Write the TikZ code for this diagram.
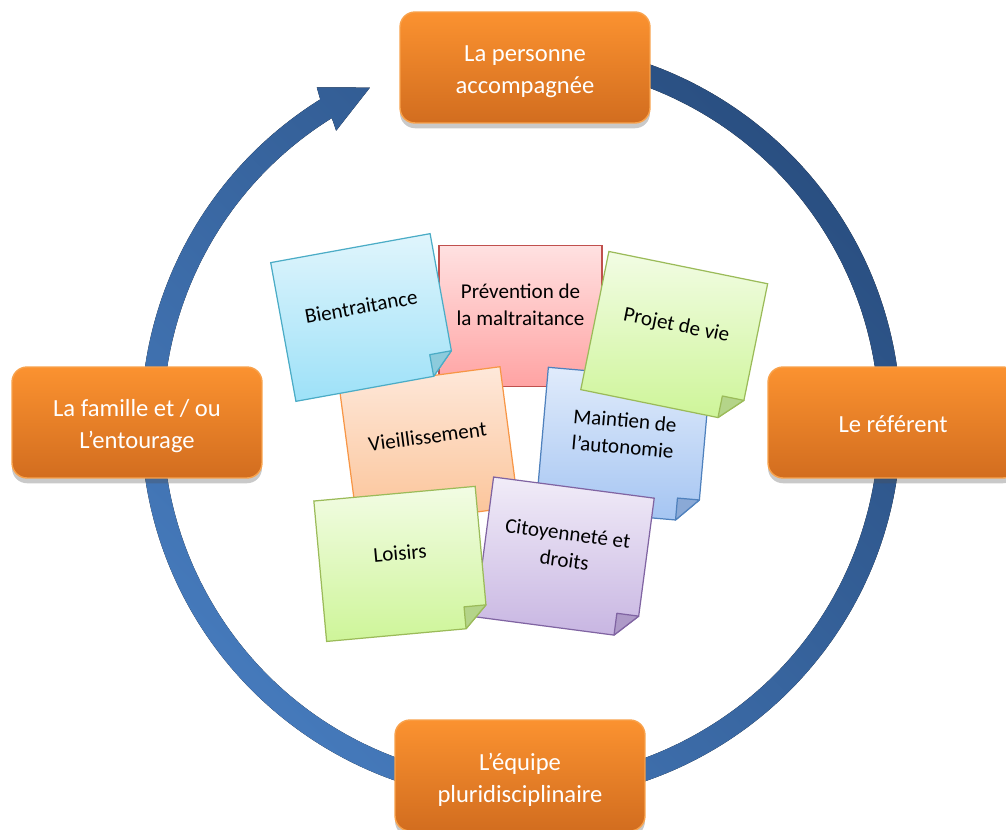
\documentclass[tikz,border=0pt]{standalone}
\usepackage{fontspec}
\setmainfont{Carlito}
\usetikzlibrary{shadows}

% hub boxes
\definecolor{hubtop}{HTML}{FB9230}
\definecolor{hubbot}{HTML}{D26D1F}
\definecolor{hubline}{HTML}{F8A24C}
% ring
\definecolor{ringdark}{HTML}{294E80}
\definecolor{ringlight}{HTML}{467BBD}
% sticky notes
\definecolor{cyanT}{HTML}{E0F5FC}\definecolor{cyanB}{HTML}{9DE1F8}\definecolor{cyanL}{HTML}{4BACC6}\definecolor{cyanF}{HTML}{8CCBDC}
\definecolor{redT}{HTML}{FFE1E1}\definecolor{redB}{HTML}{FFA3A3}\definecolor{redL}{HTML}{C0504D}
\definecolor{grnT}{HTML}{F2FCE4}\definecolor{grnB}{HTML}{CEF599}\definecolor{grnL}{HTML}{9BBB59}\definecolor{grnF}{HTML}{B4D489}
\definecolor{orgT}{HTML}{FEE8DA}\definecolor{orgB}{HTML}{FBC295}\definecolor{orgL}{HTML}{F79646}\definecolor{orgF}{HTML}{E8A878}
\definecolor{bluT}{HTML}{E0EBFB}\definecolor{bluB}{HTML}{A5C5F2}\definecolor{bluL}{HTML}{4F81BD}\definecolor{bluF}{HTML}{8AA9D6}
\definecolor{purT}{HTML}{F1ECF8}\definecolor{purB}{HTML}{C8B6E2}\definecolor{purL}{HTML}{8064A2}\definecolor{purF}{HTML}{AE9AC8}

% sticky note with a folded lower right corner
% #1,#2 centre, #3 tilt, #4 colour prefix, #5 node name, #6 text
\newcommand\stickynote[6]{%
  \begin{scope}[shift={(#1,#2)}, rotate=#3]
    \path[draw=#4L, line width=0.7pt, top color=#4T, bottom color=#4B]
      (-81,-70.5) -- (81,-70.5) -- (81,48.5) -- (59,70.5) -- (-81,70.5) -- cycle;
    \path[draw=#4L, line width=0.7pt, fill=#4F, line join=round]
      (81,48.5) -- (59,70.5) -- (59,48.5) -- cycle;
    \node[notetext, rotate=#3] (#5) at (0,-11) {#6};
  \end{scope}}

\begin{document}
\begin{tikzpicture}[x=0.02cm, y=-0.02cm,
  hub/.style={draw=hubline, line width=0.8pt, rounded corners=0.3cm,
    top color=hubtop, bottom color=hubbot,
    minimum width=5cm, minimum height=2.22cm, inner sep=0pt,
    drop shadow={shadow xshift=0pt, shadow yshift=-3pt, opacity=0.3, fill=black!70}},
  hubtext/.style={align=center, text=white, inner sep=0pt,
    font=\fontsize{14}{18.2}\selectfont},
  notetext/.style={align=center, text=black, inner sep=0pt,
    font=\fontsize{12}{15.2}\selectfont}]

\useasboundingbox (0,0) rectangle (1006,830);
\clip (0,0) rectangle (1006,830);

% circular arrow, running clockwise from the top box round to its head
\begin{scope}[shift={(521,422)}]
  \fill[top color=ringdark, bottom color=ringlight, shading angle=-45]
    (-95:380) arc[start angle=-95, end angle=238.1, radius=380]
    -- (238.6:392) -- (245.7:367) -- (237.6:345)
    -- (238.1:358) arc[start angle=238.1, end angle=-95, radius=358] -- cycle;
\end{scope}

% the four partners
\node[hub] (person) at (525,67.5) {};
\node[hubtext] (personlabel) at ([yshift=-2.2pt]person.center) {La personne\\accompagnée};
\node[hub] (family) at (137,422.5) {};
\node[hubtext] (familylabel) at ([yshift=-2.2pt]family.center) {La famille et / ou\\L’entourage};
\node[hub] (referent) at (893,422.5) {};
\node[hubtext] (referentlabel) at ([yshift=-1pt]referent.center) {Le référent};
\node[hub] (team) at (520,775.5) {};
\node[hubtext] (teamlabel) at ([yshift=-2.2pt]team.center) {L’équipe\\pluridisciplinaire};

% themes, back to front; the first one is a plain sheet
\begin{scope}[shift={(520.5,316)}]
  \path[draw=redL, line width=0.7pt, top color=redT, bottom color=redB]
    (-81.5,-70.5) rectangle (81.5,70.5);
  \node[notetext] (prevention) at (0,-11) {Prévention de\\la maltraitance};
\end{scope}
\stickynote{428.9}{447.2}{7.5}{org}{ageing}{Vieillissement}
\stickynote{363}{317.5}{10.3}{cyan}{wellbeing}{Bientraitance}
\stickynote{622.9}{444.6}{-5}{blu}{autonomy}{Maintien de\\l’autonomie}
\stickynote{674.2}{336.7}{-11.5}{grn}{lifeplan}{Projet de vie}
\stickynote{564.7}{557.5}{-7.5}{pur}{rights}{Citoyenneté et\\droits}
\stickynote{400.9}{563.9}{5.2}{grn}{leisure}{Loisirs}

\end{tikzpicture}
\end{document}
